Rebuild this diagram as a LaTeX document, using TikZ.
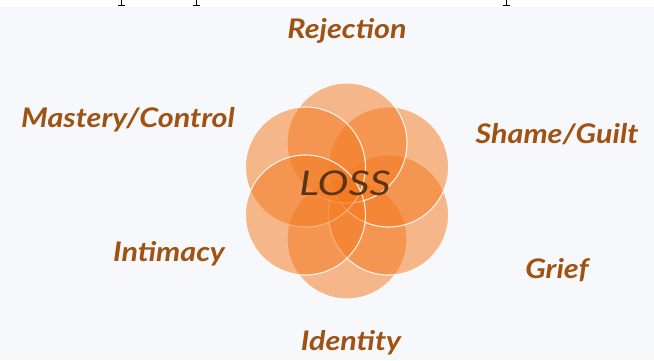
\documentclass[tikz,border=0pt]{standalone}
\usepackage{fontspec}
\usetikzlibrary{calc}
\setmainfont{Lato}
\definecolor{bgc}{RGB}{247,248,252}
\definecolor{petal}{RGB}{244,122,32}
\definecolor{labelc}{RGB}{160,82,18}
\definecolor{lossc}{RGB}{90,52,22}
\newcommand{\wlbl}[1]{\scalebox{1.13}[1]{#1}}
\begin{document}
\begin{tikzpicture}[x=1pt,y=-1pt,
  petalc/.style={circle,minimum size=120pt,inner sep=0pt,fill=petal,fill opacity=0.52,draw=white,draw opacity=0.85,line width=1.1pt},
  lbl/.style={text=labelc,font=\bfseries\itshape\fontsize{27}{30}\selectfont,inner sep=0pt,anchor=base},
  frag/.style={line width=0.9pt,black}]
\useasboundingbox (0,0) rectangle (654,360);
\fill[white] (0,0) rectangle (654,360);
\fill[bgc] (0,7) rectangle (654,360);
% cut-off text fragments at the top edge
\coordinate (f1a) at (121,0); \coordinate (f1b) at (121,5);
\coordinate (f2a) at (196,0); \coordinate (f2b) at (196,5);
\coordinate (f3a) at (506,0); \coordinate (f3b) at (506,5);
\foreach \f in {f1,f2,f3}{
  \draw[frag] (\f a) -- (\f b);
  \draw[frag] ([xshift=-3.5pt]\f b) -- ([xshift=3.5pt]\f b);
}
\coordinate (c) at (347,191);
\foreach \a/\n in {-90/p1,-30/p2,30/p3,90/p4,150/p5,210/p6}{
  \node[petalc] (\n) at ($(c)+(\a:48pt)$) {};
}
\node[text=lossc,font=\itshape\fontsize{34}{36}\selectfont,inner sep=0pt,anchor=base] (loss) at (345,195) {\scalebox{1.22}[1]{LOSS}};
\node[lbl] (rej) at (347,38) {\wlbl{Rejection}};
\node[lbl] (mas) at (128,127) {\wlbl{Mastery/Control}};
\node[lbl] (sha) at (557,143) {\wlbl{Shame/Guilt}};
\node[lbl] (int) at (169,261) {\wlbl{Intimacy}};
\node[lbl] (gri) at (557,278) {\wlbl{Grief}};
\node[lbl] (ide) at (351,350) {\wlbl{Identity}};
\end{tikzpicture}
\end{document}
